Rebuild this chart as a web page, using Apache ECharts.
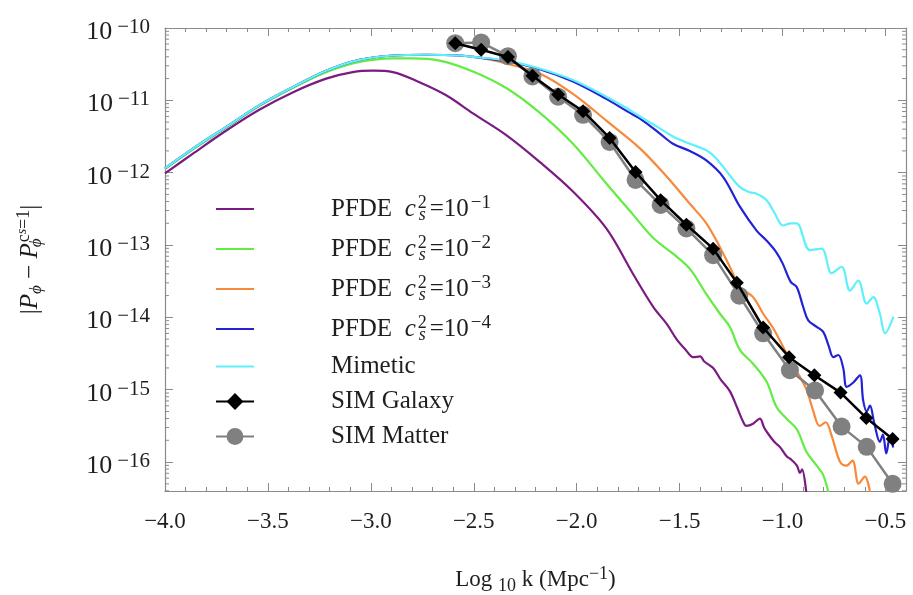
<!DOCTYPE html>
<html>
<head>
<meta charset="utf-8">
<script src="https://cdn.jsdelivr.net/npm/echarts@6/dist/echarts.min.js"></script>
<style>
  html, body { margin: 0; padding: 0; background: #fff; }
  #chart { width: 913px; height: 595px; }
</style>
</head>
<body>
<div id="chart"></div>
<script>
// log10 k  vs  log10 |P_phi - P_phi(cs=1)|
const pfde1 = [[-4.0,-12.01],[-3.866,-11.74],[-3.704,-11.42],[-3.542,-11.13],[-3.38,-10.89],[-3.217,-10.70],[-3.088,-10.61],[-2.99,-10.59],[-2.893,-10.61],[-2.764,-10.75],[-2.634,-10.93],[-2.504,-11.18],[-2.342,-11.48],[-2.18,-11.85],[-2.018,-12.26],[-1.856,-12.77],[-1.726,-13.40],[-1.629,-13.85],[-1.56,-14.10],[-1.515,-14.30],[-1.47,-14.45],[-1.434,-14.55],[-1.40,-14.54],[-1.38,-14.61],[-1.337,-14.70],[-1.30,-14.86],[-1.256,-15.02],[-1.22,-15.25],[-1.19,-15.45],[-1.175,-15.50],[-1.143,-15.47],[-1.11,-15.40],[-1.09,-15.52],[-1.077,-15.58],[-1.04,-15.72],[-1.01,-15.80],[-0.98,-15.92],[-0.96,-15.96],[-0.93,-16.05],[-0.915,-16.15],[-0.905,-16.10],[-0.88,-16.55]];
const pfde2 = [[-4.0,-11.95],[-3.866,-11.68],[-3.704,-11.38],[-3.542,-11.08],[-3.38,-10.83],[-3.217,-10.61],[-3.055,-10.47],[-2.893,-10.42],[-2.8,-10.42],[-2.666,-10.45],[-2.504,-10.60],[-2.342,-10.83],[-2.18,-11.17],[-2.018,-11.60],[-1.856,-12.15],[-1.726,-12.58],[-1.629,-12.90],[-1.532,-13.12],[-1.45,-13.33],[-1.37,-13.68],[-1.304,-13.95],[-1.256,-14.13],[-1.207,-14.45],[-1.143,-14.64],[-1.077,-14.89],[-1.029,-15.24],[-0.98,-15.40],[-0.93,-15.55],[-0.883,-15.86],[-0.834,-16.05],[-0.802,-16.18],[-0.77,-16.50]];
const pfde3 = [[-4.0,-11.94],[-3.866,-11.67],[-3.704,-11.37],[-3.542,-11.07],[-3.38,-10.82],[-3.217,-10.59],[-3.055,-10.44],[-2.893,-10.38],[-2.731,-10.37],[-2.569,-10.38],[-2.45,-10.42],[-2.342,-10.49],[-2.18,-10.63],[-2.018,-10.91],[-1.856,-11.28],[-1.694,-11.66],[-1.564,-12.05],[-1.45,-12.43],[-1.37,-12.70],[-1.304,-13.03],[-1.256,-13.30],[-1.207,-13.58],[-1.143,-13.72],[-1.094,-13.95],[-1.045,-14.15],[-0.98,-14.50],[-0.93,-14.75],[-0.883,-15.00],[-0.85,-15.30],[-0.82,-15.50],[-0.79,-15.45],[-0.76,-15.65],[-0.72,-16.00],[-0.69,-16.05],[-0.66,-15.98],[-0.63,-16.30],[-0.60,-16.20],[-0.57,-16.50]];
const pfde4 = [[-4.0,-11.94],[-3.866,-11.67],[-3.704,-11.37],[-3.542,-11.07],[-3.38,-10.82],[-3.217,-10.59],[-3.055,-10.44],[-2.893,-10.38],[-2.731,-10.37],[-2.569,-10.38],[-2.504,-10.40],[-2.342,-10.46],[-2.18,-10.57],[-2.018,-10.74],[-1.856,-10.98],[-1.75,-11.16],[-1.694,-11.25],[-1.6,-11.45],[-1.532,-11.60],[-1.45,-11.70],[-1.37,-11.83],[-1.288,-12.06],[-1.207,-12.47],[-1.126,-12.80],[-1.077,-12.94],[-1.03,-13.10],[-1.0,-13.25],[-0.96,-13.51],[-0.931,-13.58],[-0.899,-13.86],[-0.875,-14.04],[-0.834,-14.13],[-0.802,-14.20],[-0.775,-14.40],[-0.753,-14.55],[-0.729,-14.52],[-0.705,-14.70],[-0.688,-14.96],[-0.656,-14.90],[-0.624,-14.80],[-0.608,-15.15],[-0.591,-15.30],[-0.575,-15.22],[-0.555,-15.45],[-0.527,-15.72],[-0.512,-15.62],[-0.496,-15.88],[-0.478,-15.66],[-0.462,-15.80]];
const mimetic = [[-4.0,-11.94],[-3.866,-11.67],[-3.704,-11.37],[-3.542,-11.07],[-3.38,-10.82],[-3.217,-10.59],[-3.055,-10.44],[-2.893,-10.38],[-2.731,-10.37],[-2.569,-10.38],[-2.504,-10.40],[-2.342,-10.45],[-2.18,-10.56],[-2.018,-10.72],[-1.856,-10.95],[-1.75,-11.12],[-1.694,-11.22],[-1.6,-11.38],[-1.532,-11.50],[-1.45,-11.60],[-1.37,-11.69],[-1.33,-11.78],[-1.288,-11.92],[-1.207,-12.20],[-1.16,-12.27],[-1.126,-12.29],[-1.077,-12.38],[-1.04,-12.55],[-0.997,-12.73],[-0.96,-12.70],[-0.931,-12.70],[-0.867,-13.07],[-0.81,-13.05],[-0.761,-13.39],[-0.713,-13.30],[-0.672,-13.63],[-0.632,-13.49],[-0.591,-13.81],[-0.559,-13.72],[-0.527,-13.95],[-0.502,-14.22],[-0.461,-13.99]];
const simGalaxy = [[-2.59,-10.21],[-2.464,-10.30],[-2.334,-10.40],[-2.215,-10.66],[-2.09,-10.92],[-1.969,-11.15],[-1.84,-11.52],[-1.714,-11.99],[-1.592,-12.38],[-1.467,-12.72],[-1.337,-13.05],[-1.222,-13.52],[-1.094,-14.14],[-0.968,-14.55],[-0.845,-14.80],[-0.718,-15.04],[-0.593,-15.39],[-0.465,-15.68]];
const simMatter = [[-2.59,-10.21],[-2.464,-10.20],[-2.334,-10.39],[-2.215,-10.67],[-2.09,-10.95],[-1.969,-11.20],[-1.84,-11.575],[-1.714,-12.10],[-1.592,-12.445],[-1.467,-12.77],[-1.337,-13.14],[-1.21,-13.70],[-1.094,-14.22],[-0.964,-14.73],[-0.842,-15.01],[-0.713,-15.51],[-0.591,-15.79],[-0.465,-16.30]];

const seriesNames = ['PFDE c2=10^-1', 'PFDE c2=10^-2', 'PFDE c2=10^-3', 'PFDE c2=10^-4', 'Mimetic', 'SIM Galaxy', 'SIM Matter'];
const csExponents = ['\u22121', '\u22122', '\u22123', '\u22124'];
const xTickStep = 0.5;
const X_MIN = -4, X_MAX = -0.4;
const Y_MIN = Math.pow(10, -16.4), Y_MAX = 1e-10;

const yMinorTicks = [];
for (let n = -17; n <= -11; n++) {
  for (let k = 2; k <= 9; k++) {
    const v = k * Math.pow(10, n);
    if (v > Y_MIN && v < Y_MAX) yMinorTicks.push([X_MIN, v]);
  }
}

const toPts = arr => arr.map(p => [p[0], Math.pow(10, p[1])]);

const SERIF = 'Liberation Serif, DejaVu Serif, serif';
const AXIS_GRAY = '#8a8a8a';
const TXT = '#1e1e1e';
const LINE_ICON = 'path://M0,0L100,0L100,5.5L0,5.5Z';

const chart = echarts.init(document.getElementById('chart'), null, { renderer: 'canvas' });

function curve(name, data, color) {
  return {
    name: name, type: 'line', data: toPts(data),
    symbol: 'none', smooth: 0.35,
    lineStyle: { color: color, width: 2.2 }, itemStyle: { color: color },
    z: 2
  };
}

const supRich = {
  g: { width: 72, fontSize: 25, lineHeight: 30 },
  n: { fontFamily: SERIF, fontSize: 25, color: TXT, lineHeight: 30 },
  c: { fontFamily: SERIF, fontStyle: 'italic', fontSize: 25, color: TXT, lineHeight: 30, padding: [0, 2, 0, 0] },
  s2: { fontFamily: SERIF, fontSize: 18, color: TXT, lineHeight: 6, verticalAlign: 'top', width: 1 },
  ss: { fontFamily: SERIF, fontStyle: 'italic', fontSize: 18, color: TXT, lineHeight: 14, verticalAlign: 'bottom', padding: [0, 4, 0, 0] },
  sp: { fontFamily: SERIF, fontSize: 19, color: TXT, lineHeight: 4, verticalAlign: 'top', padding: [0, 0, 0, 2] }
};

const option = {
  animation: false,
  backgroundColor: '#fff',
  grid: { left: 165, right: 7, top: 28, bottom: 104, containLabel: false, outerBoundsMode: 'none' },
  legend: {
    orient: 'vertical', left: 215, top: 194, padding: 0,
    itemWidth: 38, itemHeight: 21, itemGap: 10,
    data: seriesNames.map((n, i) => (i < 5 ? { name: n, icon: LINE_ICON } : { name: n })),
    formatter: function (name) {
      const i = seriesNames.indexOf(name);
      if (i < 4) {
        return '{g| }{n|PFDE  }{c|c}{s2|2}{ss|s}{n|=10}{sp|' + csExponents[i] + '}';
      }
      return '{g| }{n|' + name + '}';
    },
    textStyle: { rich: supRich }
  },
  xAxis: [
    {
      type: 'value', min: X_MIN, max: X_MAX, interval: xTickStep, position: 'bottom',
      axisLine: { lineStyle: { color: AXIS_GRAY, width: 1.2 } },
      axisTick: { inside: true, length: 8, lineStyle: { color: AXIS_GRAY } },
      splitLine: { show: false },
      axisLabel: {
        margin: 19, fontFamily: SERIF, fontSize: 23, color: TXT,
        formatter: function (v) {
          if (Math.abs(v / xTickStep - Math.round(v / xTickStep)) > 1e-6) return '';
          return '\u2212' + Math.abs(v).toFixed(1);
        }
      },
      name: '{m|Log }{sub|10}{m| k (Mpc}{sup|\u22121}{m|)}',
      nameLocation: 'middle', nameGap: 74,
      nameTextStyle: {
        rich: {
          m: { fontFamily: SERIF, fontSize: 23, color: TXT, lineHeight: 30 },
          sub: { fontFamily: SERIF, fontSize: 18, color: TXT, lineHeight: 14, verticalAlign: 'bottom' },
          sup: { fontFamily: SERIF, fontSize: 18, color: TXT, lineHeight: 4, verticalAlign: 'top' }
        }
      }
    },
    {
      type: 'value', min: X_MIN, max: X_MAX, interval: 0.1, position: 'bottom',
      axisLine: { show: false }, axisLabel: { show: false }, splitLine: { show: false },
      axisTick: { inside: true, length: 4, lineStyle: { color: AXIS_GRAY } }
    },
    {
      type: 'value', min: X_MIN, max: X_MAX, interval: xTickStep, position: 'top',
      axisLine: { lineStyle: { color: AXIS_GRAY, width: 1.2 } }, axisLabel: { show: false }, splitLine: { show: false },
      axisTick: { inside: true, length: 8, lineStyle: { color: AXIS_GRAY } }
    },
    {
      type: 'value', min: X_MIN, max: X_MAX, interval: 0.1, position: 'top',
      axisLine: { show: false }, axisLabel: { show: false }, splitLine: { show: false },
      axisTick: { inside: true, length: 4, lineStyle: { color: AXIS_GRAY } }
    }
  ],
  yAxis: [
    {
      type: 'log', logBase: 10, min: Y_MIN, max: Y_MAX, position: 'left',
      axisLine: { show: true, lineStyle: { color: AXIS_GRAY, width: 1.2 } },
      axisTick: { show: true, inside: true, length: 8, lineStyle: { color: AXIS_GRAY } },
      splitLine: { show: false },
      axisLabel: {
        margin: 15, padding: [8, 0, 0, 0],
        formatter: function (v) {
          const e = Math.log10(v);
          if (Math.abs(e - Math.round(e)) > 1e-6) return '';
          return '{b|10}{s|\u2212' + (-Math.round(e)) + '}';
        },
        rich: {
          b: { fontFamily: SERIF, fontSize: 26, color: TXT, lineHeight: 30 },
          s: { fontFamily: SERIF, fontSize: 21, color: TXT, lineHeight: 10, verticalAlign: 'top', padding: [0, 0, 0, 5] }
        }
      },
      name: '{t||}{i|P}{sb|\u03d5}{t| \u2212 }{i|P}{sb2|\u03d5}{sp|c}{sps|s}{sp|=1}{t||}',
      nameLocation: 'middle', nameGap: 120, nameRotate: 90,
      nameTextStyle: {
        rich: {
          t: { fontFamily: SERIF, fontSize: 25, color: TXT, lineHeight: 30 },
          i: { fontFamily: SERIF, fontStyle: 'italic', fontSize: 25, color: TXT, lineHeight: 30 },
          sb: { fontFamily: SERIF, fontStyle: 'italic', fontSize: 17, color: TXT, lineHeight: 12, verticalAlign: 'bottom' },
          sb2: { fontFamily: SERIF, fontStyle: 'italic', fontSize: 17, color: TXT, lineHeight: 12, verticalAlign: 'bottom', width: 1 },
          sp: { fontFamily: SERIF, fontSize: 18, color: TXT, lineHeight: 4, verticalAlign: 'top' },
          sps: { fontFamily: SERIF, fontStyle: 'italic', fontSize: 14, color: TXT, lineHeight: 14, verticalAlign: 'top' }
        }
      }
    },
    {
      type: 'log', logBase: 10, min: Y_MIN, max: Y_MAX, position: 'right',
      axisLine: { show: true, lineStyle: { color: AXIS_GRAY, width: 1.2 } },
      axisTick: { show: true, inside: true, length: 8, lineStyle: { color: AXIS_GRAY } },
      axisLabel: { show: false }, splitLine: { show: false }
    }
  ],
  series: [
    curve(seriesNames[0], pfde1, '#7b1b82'),
    curve(seriesNames[1], pfde2, '#62ec44'),
    curve(seriesNames[2], pfde3, '#f7893b'),
    curve(seriesNames[3], pfde4, '#2224d4'),
    curve(seriesNames[4], mimetic, '#5ff0fb'),
    {
      name: seriesNames[6], type: 'line', data: toPts(simMatter),
      symbol: 'circle', symbolSize: 18,
      lineStyle: { color: '#808080', width: 2.5 }, itemStyle: { color: '#808080' }, z: 3
    },
    {
      name: seriesNames[5], type: 'line', data: toPts(simGalaxy),
      symbol: 'diamond', symbolSize: 14,
      lineStyle: { color: '#000', width: 2.5 }, itemStyle: { color: '#000' }, z: 4
    },
    {
      type: 'custom', silent: true, data: yMinorTicks, z: 5,
      renderItem: function (params, api) {
        const l = api.coord([X_MIN, api.value(1)]);
        const r = api.coord([X_MAX, api.value(1)]);
        const st = { stroke: AXIS_GRAY, lineWidth: 1 };
        return {
          type: 'group', children: [
            { type: 'line', shape: { x1: l[0], y1: l[1], x2: l[0] + 4, y2: l[1] }, style: st },
            { type: 'line', shape: { x1: r[0], y1: r[1], x2: r[0] - 4, y2: r[1] }, style: st }
          ]
        };
      }
    }
  ]
};

chart.setOption(option);
</script>
</body>
</html>
